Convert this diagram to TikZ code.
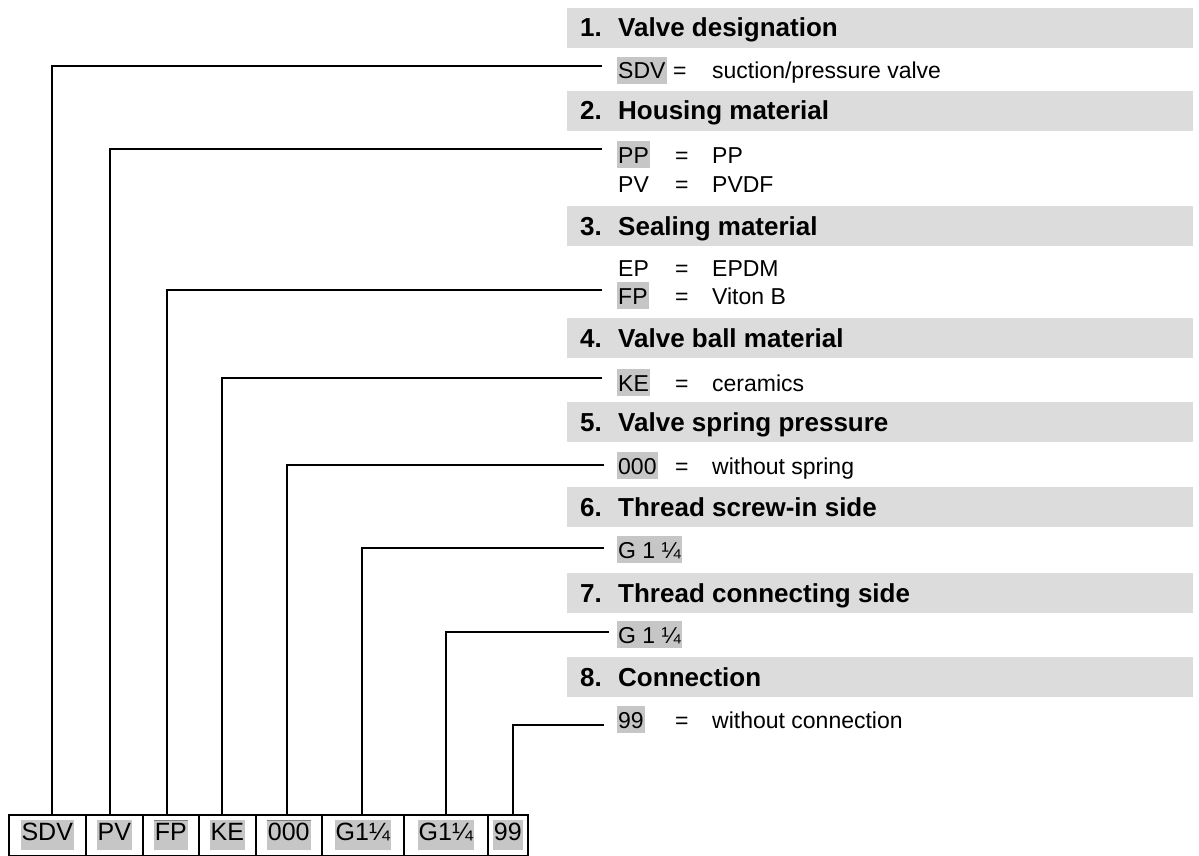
\documentclass[tikz,border=0pt]{standalone}
\usepackage{fontspec}
\setmainfont{Liberation Sans}
\usetikzlibrary{calc}
\definecolor{bargray}{HTML}{DCDCDC}
\definecolor{codegray}{HTML}{C6C6C6}
\begin{document}
\begin{tikzpicture}[x=1pt,y=-1pt,
  bar/.style={fill=bargray, draw=none, minimum width=626pt, minimum height=40pt, anchor=north west, inner sep=0pt},
  head/.style={font=\fontsize{26}{26}\selectfont\bfseries, anchor=base west, inner sep=0pt},
  code/.style={font=\fontsize{23}{23}\selectfont, anchor=base west, inner xsep=1.5pt, inner ysep=0pt, text height=22pt, text depth=5pt},
  hl/.style={code, fill=codegray},
  txt/.style={font=\fontsize{23}{23}\selectfont, anchor=base west, inner sep=0pt},
  conn/.style={line width=1.5pt},
  cell/.style={draw, line width=1.5pt, minimum height=41pt, anchor=north west, inner sep=0pt},
  cellhl/.style={fill=codegray, font=\fontsize{25}{25}\selectfont, inner xsep=1pt, inner ysep=0pt, text height=20pt, text depth=10pt, anchor=north},
]
\useasboundingbox (0,0) rectangle (1199,856);
\fill[white] (0,0) rectangle (1199,856);

% header bars
\foreach \i/\y/\t in {1/8/Valve designation, 2/91/Housing material, 3/206/Sealing material, 4/318/Valve ball material, 5/402/Valve spring pressure, 6/487/Thread screw-in side, 7/573/Thread connecting side, 8/657/Connection}{
  \node[bar] (bar\i) at (567,\y) {};
  \node[head] (num\i) at (580,\y+29) {\i.};
  \node[head] (tit\i) at (618,\y+29) {\t};
}

% code rows
\node[hl] (c1) at (616.5,79) {SDV};
\node[txt] (q1) at (673,79) {=};
\node[txt] (v1) at (712,79) {suction/pressure valve};

\node[hl] (c2) at (616.5,163) {PP};
\node[txt] (q2) at (675,163) {=};
\node[txt] (v2) at (712,163) {PP};
\node[code] (c2b) at (616.5,192) {PV};
\node[txt] (q2b) at (675,192) {=};
\node[txt] (v2b) at (712,192) {PVDF};

\node[code] (c3a) at (616.5,276) {EP};
\node[txt] (q3a) at (675,276) {=};
\node[txt] (v3a) at (712,276) {EPDM};
\node[hl] (c3) at (616.5,304) {FP};
\node[txt] (q3) at (675,304) {=};
\node[txt] (v3) at (712,304) {Viton B};

\node[hl] (c4) at (616.5,391) {KE};
\node[txt] (q4) at (675,391) {=};
\node[txt] (v4) at (712,391) {ceramics};

\node[hl] (c5) at (616.5,474) {000};
\node[txt] (q5) at (675,474) {=};
\node[txt] (v5) at (712,474) {without spring};

\node[hl] (c6) at (616.5,558) {G 1 ¼};
\node[hl] (c7) at (616.5,643) {G 1 ¼};

\node[hl] (c8) at (616.5,728) {99};
\node[txt] (q8) at (675,728) {=};
\node[txt] (v8) at (712,728) {without connection};

% bottom cells
\node[cell, minimum width=77pt] (b1) at (8,814) {};
\node[cell, minimum width=57pt] (b2) at (85,814) {};
\node[cell, minimum width=56pt] (b3) at (142,814) {};
\node[cell, minimum width=57pt] (b4) at (198,814) {};
\node[cell, minimum width=66pt] (b5) at (255,814) {};
\node[cell, minimum width=82pt] (b6) at (321,814) {};
\node[cell, minimum width=84pt] (b7) at (403,814) {};
\node[cell, minimum width=40pt] (b8) at (487,814) {};

\foreach \i/\t in {1/SDV,2/PV,3/FP,4/KE,5/000,6/G1¼,7/G1¼,8/99}{
  \node[cellhl] (h\i) at ($(b\i.north)+(0,6)$) {\t};
}
\draw[gray, line width=0.8pt] (h3.north west) -- (h3.north east);
\draw[gray, line width=0.8pt] (h5.north west) -- (h5.north east);

% connector ends
\coordinate (e1) at (602,66);
\coordinate (e2) at (602,149);
\coordinate (e3) at (602,290);
\coordinate (e4) at (602,378);
\coordinate (e5) at (604,465);
\coordinate (e6) at (604,548);
\coordinate (e7) at (609,632);
\coordinate (e8) at (604,725);

\coordinate (t1) at (52,814);
\coordinate (t2) at (110,814);
\coordinate (t3) at (167,814);
\coordinate (t4) at (222,814);
\coordinate (t5) at (287,814);
\coordinate (t6) at (362,814);
\coordinate (t7) at (446,814);
\coordinate (t8) at (513,814);

\foreach \i in {1,...,8}{
  \draw[conn] (e\i) -| (t\i);
}
\end{tikzpicture}
\end{document}
